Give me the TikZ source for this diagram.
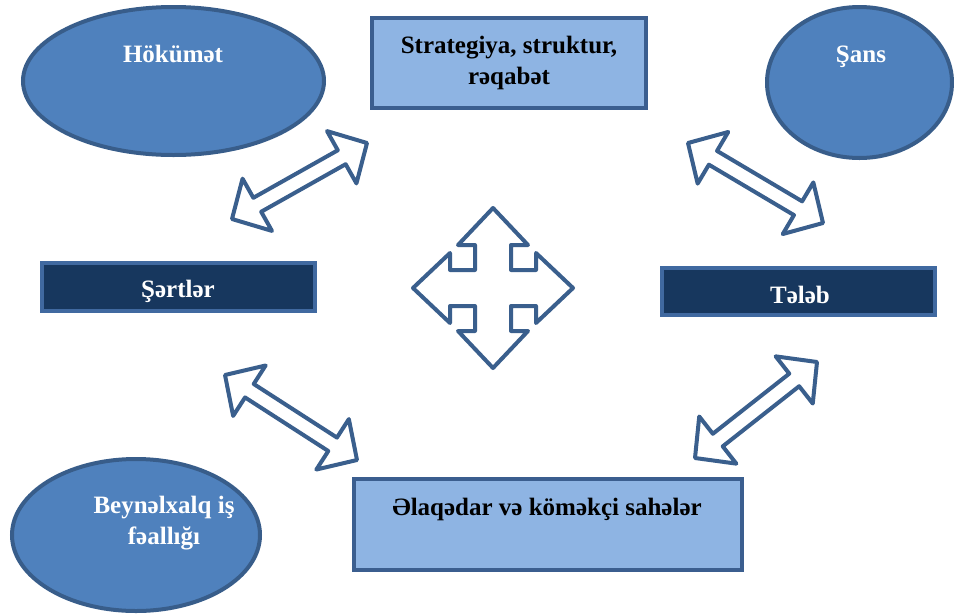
\documentclass[tikz,border=0pt]{standalone}
\usepackage{fontspec}
\setmainfont{Liberation Serif}
\usetikzlibrary{calc,shapes.geometric}
\definecolor{ellfill}{HTML}{4F81BD}
\definecolor{ellline}{HTML}{385D8A}
\definecolor{lightfill}{HTML}{8EB4E3}
\definecolor{boxline}{HTML}{3B5E8F}
\definecolor{darkfill}{HTML}{17375E}
\definecolor{darkline}{HTML}{4069A0}
\definecolor{arrline}{HTML}{3A5F8D}
\newcommand\dblarr[2]{%
  \path ($(#1)!29pt!(#2)$) coordinate (ha) ($(#2)!29pt!(#1)$) coordinate (hb);
  \draw[blockarrow] (#1) -- ($(ha)!30pt!90:(#2)$) -- ($(ha)!8pt!90:(#2)$)
    -- ($(hb)!8pt!-90:(#1)$) -- ($(hb)!30pt!-90:(#1)$) -- (#2)
    -- ($(hb)!30pt!90:(#1)$) -- ($(hb)!8pt!90:(#1)$)
    -- ($(ha)!8pt!-90:(#2)$) -- ($(ha)!30pt!-90:(#2)$) -- cycle;}
\begin{document}
\begin{tikzpicture}[x=1pt,y=-1pt,
  ellnode/.style={ellipse, draw=ellline, fill=ellfill, line width=4pt, inner sep=0pt},
  lightbox/.style={rectangle, draw=boxline, fill=lightfill, line width=4pt, inner sep=0pt},
  darkbox/.style={rectangle, draw=darkline, fill=darkfill, line width=4pt, inner sep=0pt},
  txt/.style={font=\bfseries\fontsize{25}{31}\selectfont, inner sep=0pt, align=center},
  wtxt/.style={txt, text=white},
  blockarrow/.style={draw=arrline, fill=white, line width=4pt, line join=round}]
\useasboundingbox (0,0) rectangle (954,614);
\fill[white] (0,0) rectangle (954,614);

% ellipses
\node[ellnode, minimum width=301pt, minimum height=148pt] (gov) at (173.5,81) {};
\node[wtxt, anchor=base] (govt) at (173,62) {Hökümət};
\node[ellnode, minimum width=185pt, minimum height=151pt] (chance) at (859.5,82.5) {};
\node[wtxt, anchor=base] (chancet) at (861,62) {Şans};
\node[ellnode, minimum width=248pt, minimum height=152pt] (intl) at (136,535) {};
\node[wtxt, anchor=center] (intlt) at (164,523) {Beynəlxalq iş\\fəallığı};

% boxes
\node[lightbox, minimum width=274pt, minimum height=90pt] (strat) at (509,63) {};
\node[txt, anchor=center] (stratt) at (509,63) {Strategiya, struktur,\\rəqabət};
\node[darkbox, minimum width=273pt, minimum height=48pt] (cond) at (178.5,287) {};
\node[wtxt, anchor=base] (condt) at (178,297) {Şərtlər};
\node[darkbox, minimum width=273pt, minimum height=47pt] (demand) at (798.5,291.5) {};
\node[wtxt, anchor=base] (demandt) at (800,303) {Tələb};
\node[lightbox, minimum width=388pt, minimum height=91pt] (rel) at (548,524.5) {};
\node[txt, anchor=base] (relt) at (547,515) {Əlaqədar və köməkçi sahələr};

% four-way arrow
\coordinate (c) at (493,288);
\draw[blockarrow, shift={(c)}]
  (0,-80) -- (35,-43) -- (18,-43) -- (18,-18) -- (43,-18) -- (43,-35)
  -- (80,0) -- (43,35) -- (43,18) -- (18,18) -- (18,43) -- (35,43)
  -- (0,80) -- (-35,43) -- (-18,43) -- (-18,18) -- (-43,18) -- (-43,35)
  -- (-80,0) -- (-43,-35) -- (-43,-18) -- (-18,-18) -- (-18,-43) -- (-35,-43) -- cycle;

% double arrows
\coordinate (a1s) at (232,219); \coordinate (a1e) at (367,143);
\coordinate (a2s) at (688,143); \coordinate (a2e) at (823,223);
\coordinate (a3s) at (225,375); \coordinate (a3e) at (357,460);
\coordinate (a4s) at (817,362); \coordinate (a4e) at (695,458);
\dblarr{a1s}{a1e}
\dblarr{a2s}{a2e}
\dblarr{a3s}{a3e}
\dblarr{a4s}{a4e}
\end{tikzpicture}
\end{document}
